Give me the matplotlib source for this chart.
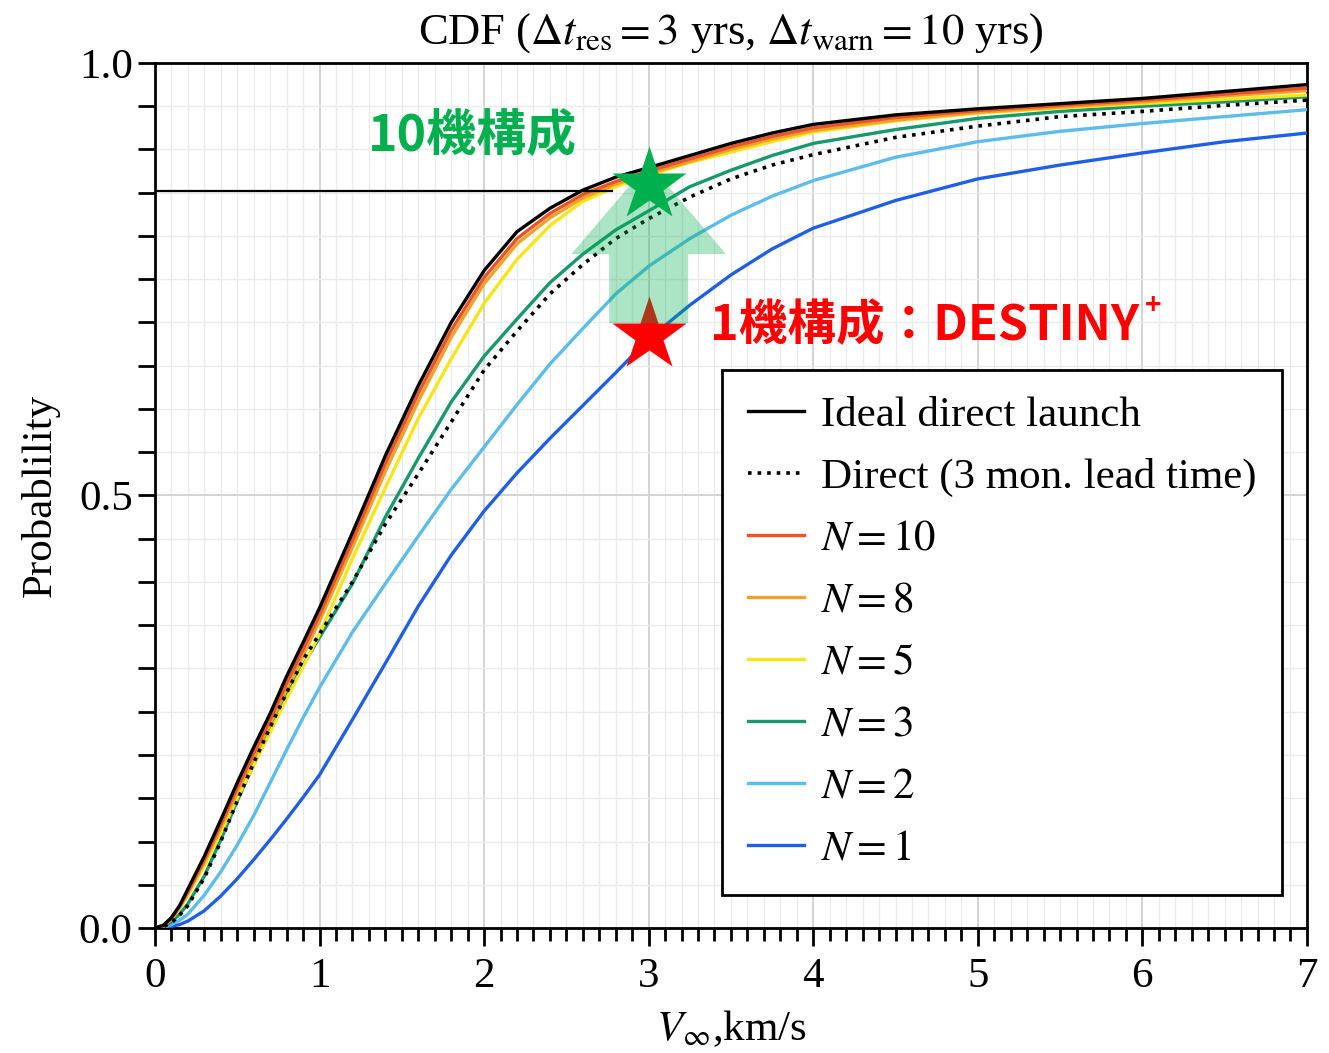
import matplotlib
matplotlib.use('Agg')
import matplotlib.pyplot as plt
from matplotlib.ticker import MultipleLocator

plt.rcParams['font.family'] = ['Liberation Serif', 'DejaVu Serif']
plt.rcParams['mathtext.fontset'] = 'stix'

# V_inf grid (km/s)
v_inf = [0, 0.05, 0.1, 0.15, 0.2, 0.3, 0.4, 0.5, 0.6, 0.7, 0.8, 0.9, 1.0,
         1.2, 1.4, 1.6, 1.8, 2.0, 2.2, 2.4, 2.6, 2.8, 3.0,
         3.25, 3.5, 3.75, 4.0, 4.5, 5.0, 5.5, 6.0, 6.5, 7.0]

# CDF values
ideal = [0, 0.003, 0.012, 0.026, 0.045, 0.083, 0.125, 0.168, 0.209, 0.248, 0.291, 0.330, 0.370,
         0.457, 0.546, 0.627, 0.700, 0.760, 0.805, 0.832, 0.853, 0.868, 0.879,
         0.893, 0.907, 0.919, 0.929, 0.940, 0.947, 0.953, 0.959, 0.967, 0.975]
direct_3mon = [0, 0.0015, 0.006, 0.015, 0.026, 0.058, 0.100, 0.147, 0.191, 0.232, 0.272, 0.310, 0.340,
               0.400, 0.467, 0.525, 0.585, 0.645, 0.690, 0.733, 0.767, 0.797, 0.820,
               0.845, 0.866, 0.882, 0.894, 0.914, 0.927, 0.938, 0.944, 0.951, 0.957]
n10 = [0, 0.003, 0.011, 0.025, 0.042, 0.079, 0.120, 0.162, 0.202, 0.241, 0.283, 0.322, 0.362,
       0.448, 0.537, 0.618, 0.691, 0.752, 0.797, 0.826, 0.848, 0.863, 0.875,
       0.889, 0.903, 0.915, 0.925, 0.937, 0.945, 0.951, 0.957, 0.964, 0.971]
n8 = [0, 0.003, 0.010, 0.024, 0.040, 0.076, 0.116, 0.157, 0.197, 0.236, 0.276, 0.315, 0.355,
      0.440, 0.528, 0.609, 0.683, 0.745, 0.791, 0.821, 0.844, 0.860, 0.872,
      0.886, 0.900, 0.912, 0.922, 0.934, 0.943, 0.949, 0.955, 0.962, 0.968]
n5 = [0, 0.003, 0.010, 0.023, 0.038, 0.072, 0.110, 0.150, 0.188, 0.226, 0.265, 0.302, 0.340,
      0.427, 0.509, 0.589, 0.658, 0.722, 0.773, 0.812, 0.840, 0.857, 0.870,
      0.885, 0.897, 0.909, 0.920, 0.933, 0.942, 0.948, 0.953, 0.958, 0.963]
n3 = [0, 0.002, 0.007, 0.016, 0.028, 0.060, 0.102, 0.147, 0.189, 0.230, 0.269, 0.304, 0.336,
      0.398, 0.475, 0.543, 0.608, 0.661, 0.704, 0.746, 0.779, 0.807, 0.829,
      0.857, 0.876, 0.893, 0.907, 0.923, 0.936, 0.944, 0.950, 0.955, 0.961]
n2 = [0, 0.001, 0.004, 0.009, 0.016, 0.038, 0.065, 0.096, 0.130, 0.168, 0.206, 0.243, 0.278,
      0.342, 0.398, 0.453, 0.507, 0.556, 0.605, 0.652, 0.693, 0.733, 0.765,
      0.797, 0.824, 0.846, 0.864, 0.891, 0.909, 0.921, 0.930, 0.938, 0.946]
n1 = [0, 0.0005, 0.002, 0.004, 0.008, 0.020, 0.037, 0.057, 0.079, 0.102, 0.126, 0.151, 0.177,
      0.241, 0.306, 0.372, 0.431, 0.482, 0.526, 0.566, 0.604, 0.642, 0.681,
      0.720, 0.755, 0.785, 0.809, 0.841, 0.866, 0.882, 0.896, 0.909, 0.919]

labels = ['Ideal direct launch', 'Direct (3 mon. lead time)',
          '$N=10$', '$N=8$', '$N=5$', '$N=3$', '$N=2$', '$N=1$']

# annotation points
ref_level = 0.852
star_1 = (3.0, 0.686)
star_10 = (3.0, 0.859)

fig = plt.figure(figsize=(13.29, 10.53), dpi=100)
ax = fig.add_axes([0.1166, 0.1187, 0.8668, 0.8215])

lw = 2.4
ax.plot(v_inf, n1, color='#1f5fe6', lw=lw, label=labels[7], zorder=3)
ax.plot(v_inf, n2, color='#5cbcec', lw=lw, label=labels[6], zorder=3)
ax.plot(v_inf, n3, color='#17996b', lw=lw, label=labels[5], zorder=3)
ax.plot(v_inf, n5, color='#f7e51c', lw=lw, label=labels[4], zorder=3)
ax.plot(v_inf, n8, color='#eda22a', lw=lw, label=labels[3], zorder=3)
ax.plot(v_inf, n10, color='#ea5428', lw=lw, label=labels[2], zorder=3)
ax.plot(v_inf, direct_3mon, color='black', lw=2.6, ls=':', label=labels[1], zorder=3)
ax.plot(v_inf, ideal, color='black', lw=lw, label=labels[0], zorder=4)

# reference line
ax.plot([0, 2.78], [ref_level, ref_level], color='black', lw=1.6, zorder=4)

ax.set_xlim(0, 7)
ax.set_ylim(0, 1)
ax.xaxis.set_major_locator(MultipleLocator(1))
ax.xaxis.set_minor_locator(MultipleLocator(0.1))
ax.yaxis.set_minor_locator(MultipleLocator(0.05))
ax.set_yticks([0, 0.5, 1.0])
ax.set_yticklabels(['0.0', '0.5', '1.0'])
ax.grid(which='major', color='#d0d0d0', lw=1.3, zorder=0)
ax.grid(which='minor', color='#ebebeb', lw=1.0, zorder=0)
ax.set_axisbelow(True)
ax.tick_params(which='both', direction='out', width=2, labelsize=31, color='black')
ax.tick_params(axis='x', which='major', length=13, pad=8)
ax.tick_params(axis='x', which='minor', length=9)
ax.tick_params(axis='y', which='both', length=12, pad=4)
for s in ax.spines.values():
    s.set_linewidth(2)

ax.set_title(r'CDF ($\Delta t_{\rm res} = 3$ yrs, $\Delta t_{\rm warn} = 10$ yrs)',
             fontsize=32, pad=14)
ax.set_xlabel(r'$V_{\infty}$,km/s', fontsize=31, labelpad=9)
ax.set_ylabel('Probablility', fontsize=31, labelpad=14)

# legend in the given order
h, l = ax.get_legend_handles_labels()
order = [labels.index(t) for t in l]
pairs = sorted(zip(order, h, l))
leg = ax.legend([p[1] for p in pairs], [p[2] for p in pairs],
                loc='upper left', bbox_to_anchor=(0.492, 0.645), borderaxespad=0,
                fontsize=31, fancybox=False, edgecolor='black', framealpha=1,
                handlelength=1.3, handletextpad=0.4, labelspacing=0.53,
                borderpad=0.6)
leg.get_frame().set_linewidth(2)

# stars and arrow
green = '#00b04f'
ax.plot(*star_1, marker='*', ms=56, color='#ff0000', mec='none', zorder=5)
ax.arrow(3.0, 0.699, 0, 0.185, width=0.48, head_width=0.94, head_length=0.105,
         length_includes_head=True, color=green, alpha=0.33, lw=0, zorder=6)
ax.plot(*star_10, marker='*', ms=56, color=green, mec='none', zorder=7)

cjk = ['Noto Sans CJK JP', 'DejaVu Sans']
ax.text(1.93, 0.915, '10機構成', color=green, fontsize=36, fontweight='bold',
        family=cjk, ha='center', va='center', zorder=8)
t = ax.text(3.37, 0.697, '1機構成：DESTINY', color='#ff0000', fontsize=35,
            fontweight='bold', family=cjk, ha='left', va='center', zorder=8)
ax.annotate('+', xy=(1.015, 0.6), xycoords=t, color='#ff0000', fontsize=20,
            fontweight='bold', family=cjk, ha='left', va='bottom', zorder=8)

fig.savefig('out.png', dpi=100)
